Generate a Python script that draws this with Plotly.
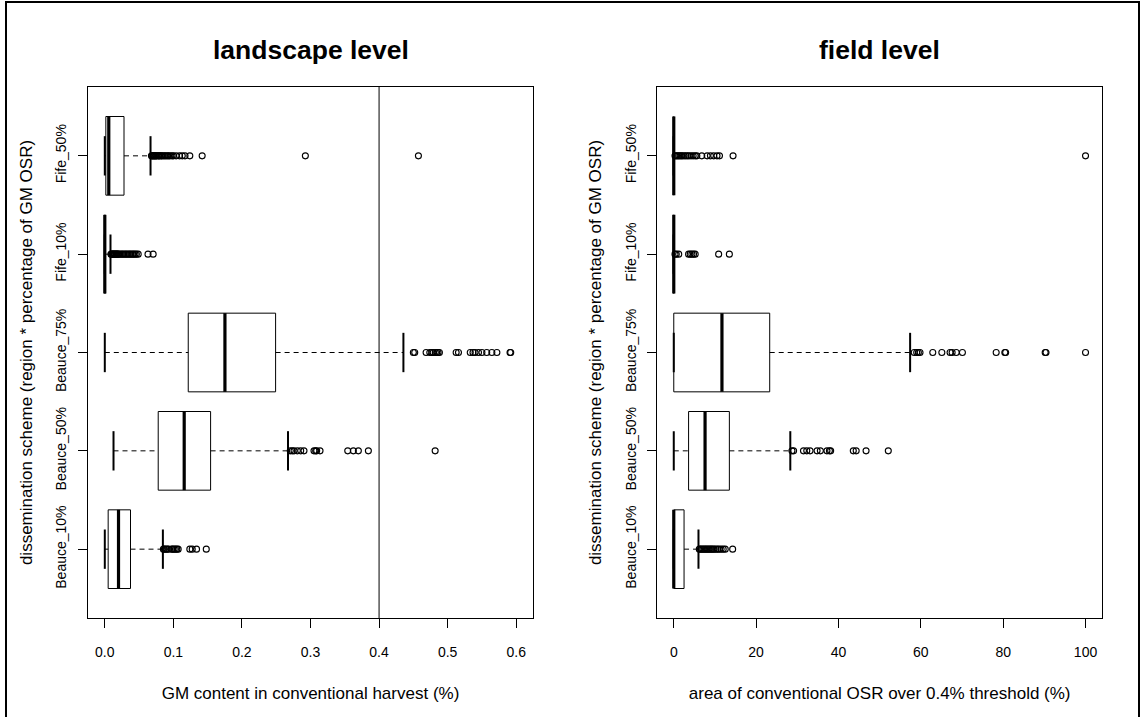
import plotly.graph_objects as go

# ---------------- data ----------------
categories = ["Beauce_10%", "Beauce_50%", "Beauce_75%", "Fife_10%", "Fife_50%"]

# landscape level: GM content in conventional harvest (%)
land_lower = [0.0, 0.0127, 0.0, 0.0, 0.0]
land_q1 = [0.0049, 0.0779, 0.1217, 0.0, 0.0015]
land_median = [0.0200, 0.1158, 0.1752, 0.0, 0.0058]
land_q3 = [0.0375, 0.1543, 0.2491, 0.0005, 0.0280]
land_upper = [0.0847, 0.2672, 0.4355, 0.0083, 0.0667]

land_out_beauce10 = [0.0855, 0.087, 0.089, 0.091, 0.093, 0.0975, 0.099, 0.101, 0.103,
                     0.105, 0.107, 0.124, 0.1275, 0.1338, 0.148]
land_out_beauce50 = [0.2705, 0.2735, 0.276, 0.2808, 0.2857, 0.2905, 0.3051, 0.3075,
                     0.309, 0.3139, 0.3543, 0.3625, 0.3698, 0.3844, 0.4818]
land_out_beauce75 = [0.450, 0.452, 0.4686, 0.474, 0.477, 0.479, 0.482, 0.484, 0.486,
                     0.488, 0.5124, 0.5158, 0.533, 0.537, 0.540, 0.545, 0.550, 0.557,
                     0.5645, 0.5718, 0.591, 0.592]
land_out_fife10 = [0.009, 0.010, 0.011, 0.012, 0.013, 0.014, 0.015, 0.016, 0.017, 0.018,
                   0.019, 0.020, 0.022, 0.024, 0.026, 0.028, 0.030, 0.032, 0.034, 0.036,
                   0.038, 0.040, 0.042, 0.044, 0.046, 0.0487, 0.063, 0.0705]
land_out_fife50 = [0.068, 0.069, 0.070, 0.071, 0.072, 0.073, 0.074, 0.075, 0.076, 0.078,
                   0.079, 0.080, 0.082, 0.083, 0.085, 0.087, 0.089, 0.091, 0.093, 0.095,
                   0.098, 0.100, 0.104, 0.109, 0.113, 0.117, 0.124, 0.142, 0.2925, 0.4574]
threshold = 0.4

# field level: area of conventional OSR over 0.4% threshold (%)
field_lower = [0.0, 0.0, 0.0, 0.0, 0.0]
field_q1 = [0.0, 3.6, 0.0, 0.0, 0.0]
field_median = [0.0, 7.6, 11.7, 0.0, 0.0]
field_q3 = [2.5, 13.5, 23.3, 0.0, 0.0]
field_upper = [6.0, 28.3, 57.4, 0.0, 0.0]

field_out_beauce10 = [6.2, 6.5, 6.8, 7.1, 7.4, 7.7, 8.0, 8.3, 8.6, 8.9, 9.2, 9.5, 9.8,
                      10.2, 10.6, 11.0, 11.5, 12.0, 12.5, 14.3]
field_out_beauce50 = [28.7, 29.1, 31.5, 32.3, 33.1, 34.8, 35.6, 37.2, 37.8, 38.1, 43.6,
                      44.3, 46.7, 52.1]
field_out_beauce75 = [58.4, 59.0, 59.4, 59.8, 62.9, 65.1, 67.1, 67.6, 68.6, 70.1, 78.3,
                      80.4, 80.6, 90.2, 90.4, 100.0]
field_out_fife10 = [0.3, 0.6, 1.2, 3.6, 4.0, 4.4, 4.8, 5.2, 10.9, 13.5]
field_out_fife50 = [0.3, 0.6, 0.9, 1.2, 1.5, 1.8, 2.1, 2.5, 2.9, 3.3, 3.7, 4.2, 4.7, 5.2,
                    5.6, 6.8, 8.1, 8.9, 9.7, 10.5, 11.1, 14.4, 100.0]

land_outliers = [land_out_beauce10, land_out_beauce50, land_out_beauce75,
                 land_out_fife10, land_out_fife50]
field_outliers = [field_out_beauce10, field_out_beauce50, field_out_beauce75,
                  field_out_fife10, field_out_fife50]

# ---------------- drawing ----------------
FONT = "Liberation Sans, Arial, sans-serif"
HALF_BOX = 0.4
HALF_STAPLE = 0.2
positions = list(range(1, len(categories) + 1))

fig = go.Figure()


def add_panel(lower, q1, med, q3, upper, outliers, xa, ya):
    wx, wy, sx, sy, bx, by, mx, my, ox, oy = [], [], [], [], [], [], [], [], [], []
    for p, lo, a, m, b, hi, outs in zip(positions, lower, q1, med, q3, upper, outliers):
        # whiskers (dashed)
        wx += [lo, a, None, b, hi, None]
        wy += [p, p, None, p, p, None]
        # staples
        sx += [lo, lo, None, hi, hi, None]
        sy += [p - HALF_STAPLE, p + HALF_STAPLE, None, p - HALF_STAPLE, p + HALF_STAPLE, None]
        # box
        bx += [a, b, b, a, a, None]
        by += [p - HALF_BOX, p - HALF_BOX, p + HALF_BOX, p + HALF_BOX, p - HALF_BOX, None]
        # median
        mx += [m, m, None]
        my += [p - HALF_BOX, p + HALF_BOX, None]
        # outliers
        ox += outs
        oy += [p] * len(outs)
    common = dict(xaxis=xa, yaxis=ya, showlegend=False, hoverinfo="skip")
    fig.add_trace(go.Scatter(x=wx, y=wy, mode="lines",
                             line=dict(color="black", width=1, dash="5px,4px"), **common))
    fig.add_trace(go.Scatter(x=sx, y=sy, mode="lines",
                             line=dict(color="black", width=2), **common))
    fig.add_trace(go.Scatter(x=bx, y=by, mode="lines",
                             line=dict(color="black", width=1), **common))
    fig.add_trace(go.Scatter(x=mx, y=my, mode="lines",
                             line=dict(color="black", width=3.2), **common))
    fig.add_trace(go.Scatter(x=ox, y=oy, mode="markers",
                             marker=dict(symbol="circle-open", size=6, color="black",
                                         line=dict(width=1.1, color="black")), **common))


add_panel(land_lower, land_q1, land_median, land_q3, land_upper, land_outliers, "x", "y")
add_panel(field_lower, field_q1, field_median, field_q3, field_upper, field_outliers, "x2", "y2")

ML, MR, MT, MB = 88, 39, 87, 99
W, H = 1141, 717
pw = W - ML - MR
ph = H - MT - MB

tickfont = dict(family=FONT, size=14, color="black")
titlefont = dict(family=FONT, size=17, color="black")

xcommon = dict(showgrid=False, zeroline=False, showline=True, mirror=True,
               linecolor="black", linewidth=1, ticks="outside", ticklen=9,
               tickcolor="black", tickwidth=1, tickfont=tickfont,
               ticklabelstandoff=12)
ycommon = dict(showgrid=False, zeroline=False, showline=True, mirror=True,
               linecolor="black", linewidth=1, ticks="outside", ticklen=9,
               tickcolor="black", tickwidth=1, tickfont=tickfont,
               range=[0.3, 5.7], tickmode="array", tickvals=positions,
               ticktext=categories, tickangle=-90, ticklabelstandoff=6)

fig.update_layout(
    width=W, height=H,
    margin=dict(l=ML, r=MR, t=MT, b=MB),
    paper_bgcolor="white", plot_bgcolor="white",
    xaxis=dict(domain=[0, 445 / pw], range=[-0.0245, 0.6245], tick0=0, dtick=0.1,
               tickformat=".1f",
               title=dict(text="GM content in conventional harvest (%)", font=titlefont,
                          standoff=28), **xcommon),
    xaxis2=dict(domain=[(657.3 - ML) / pw, 1], range=[-4, 104], tick0=0, dtick=20,
                anchor="y2",
                title=dict(text="area of conventional OSR over 0.4% threshold (%)",
                           font=titlefont, standoff=28), **xcommon),
    yaxis=dict(domain=[0, 1], anchor="x",
               title=dict(text="dissemination scheme (region * percentage of GM OSR)",
                          font=titlefont, standoff=16), **ycommon),
    yaxis2=dict(domain=[0, 1], anchor="x2",
                title=dict(text="dissemination scheme (region * percentage of GM OSR)",
                           font=titlefont, standoff=16), **ycommon),
)

# threshold line
fig.add_shape(type="line", xref="x", yref="y domain", x0=threshold, x1=threshold,
              y0=0, y1=1, line=dict(color="black", width=1))

# panel titles
for text, xref in [("landscape level", "x domain"), ("field level", "x2 domain")]:
    fig.add_annotation(text="<b>%s</b>" % text, xref=xref, yref="paper", x=0.5,
                       y=1 + (MT - 50) / ph, showarrow=False,
                       font=dict(family=FONT, size=26.5, color="black"),
                       xanchor="center", yanchor="middle")

# outer frame (bottom edge lies just outside the visible page)
fig.add_shape(type="rect", xref="paper", yref="paper",
              x0=(6 - ML) / pw, x1=(1139 - ML) / pw,
              y0=-(720 - (H - MB)) / ph, y1=1 + (MT - 2) / ph,
              line=dict(color="black", width=2))

fig.write_html("out.html", config={"displayModeBar": False},
               post_script="document.body.style.margin='0';document.body.style.overflow='hidden';")
